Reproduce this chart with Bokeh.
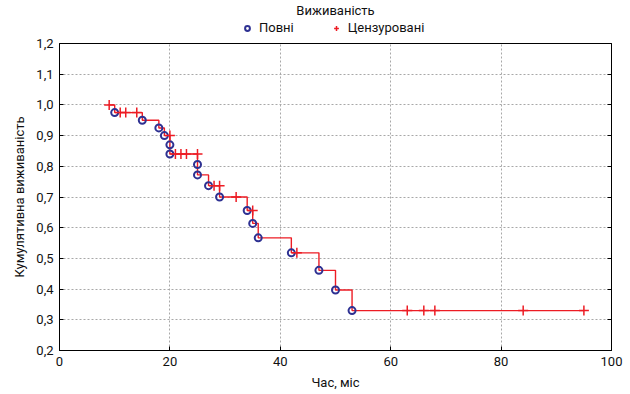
from bokeh.plotting import figure
from bokeh.layouts import column
from bokeh.models import Range1d, FixedTicker, LinearAxis, Legend, LegendItem
from bokeh.embed import file_html
from bokeh.resources import INLINE

# ---- data ----
event_times = [10, 15, 18, 19, 20, 20, 25, 25, 27, 29, 34, 35, 36, 42, 47, 50, 53]
event_surv = [0.975, 0.95, 0.925, 0.90, 0.87, 0.84, 0.806, 0.772, 0.737, 0.70,
              0.656, 0.614, 0.567, 0.518, 0.461, 0.397, 0.33]
cens_times = [9, 11, 12, 14, 20, 21, 22, 23, 25, 28, 29, 32, 35, 43, 63, 66, 68, 84, 95]
cens_surv = [1.0, 0.975, 0.975, 0.975, 0.90, 0.84, 0.84, 0.84, 0.84, 0.737, 0.737,
             0.70, 0.656, 0.518, 0.33, 0.33, 0.33, 0.33, 0.33]
start_time = 9
start_surv = 1.0
end_time = 95

x_ticks = [0, 20, 40, 60, 80, 100]
y_ticks = [0.2, 0.3, 0.4, 0.5, 0.6, 0.7, 0.8, 0.9, 1.0, 1.1, 1.2]
y_tick_labels = ["0,2", "0,3", "0,4", "0,5", "0,6", "0,7", "0,8", "0,9", "1,0", "1,1", "1,2"]

title_text = "Виживаність"
event_label = "Повні"
cens_label = "Цензуровані"
x_title = "Час, міс"
y_title = "Кумулятивна виживаність"

# ---- step line built from the event data ----
step_x = [start_time]
step_y = [start_surv]
prev = start_surv
for t, s in zip(event_times, event_surv):
    step_x += [t, t]
    step_y += [prev, s]
    prev = s
step_x.append(end_time)
step_y.append(prev)

FONT = "Roboto"
RED = "#ED1C24"
BLUE = "#2E3192"
CIRCLE_STYLE = dict(marker="circle", size=7, line_color=BLUE, line_width=2, fill_alpha=0)
CROSS_STYLE = dict(marker="cross", size=10, line_color=RED, line_width=1.5)

# ---------------- header: title + legend ----------------
head = figure(width=630, height=35, output_backend="svg", toolbar_location=None,
              x_axis_type=None, y_axis_type=None,
              x_range=Range1d(0, 1), y_range=Range1d(0, 1),
              min_border_left=0, min_border_right=0, min_border_bottom=0, min_border_top=0)
head.grid.visible = False
head.outline_line_color = None
head.title.text = title_text
head.title.align = "center"
head.title.text_font = FONT
head.title.text_font_style = "normal"
head.title.text_font_size = "13px"
head.title.text_color = "#111111"
head.title.offset = 0
head.title.standoff = 0
# same data as the main plot; it lies outside this header's ranges, so only the legend glyphs show
h_circ = head.scatter(event_times, event_surv, **CIRCLE_STYLE)
h_plus = head.scatter(cens_times, cens_surv, **CROSS_STYLE)
legend = Legend(items=[LegendItem(label=event_label, renderers=[h_circ]),
                       LegendItem(label=cens_label, renderers=[h_plus])],
                orientation="horizontal", location=(182, 0),
                border_line_color=None, background_fill_alpha=0,
                label_text_font=FONT, label_text_font_size="13px", label_text_color="#111111",
                glyph_width=12, glyph_height=12, label_standoff=6, spacing=36,
                padding=0, margin=0, label_height=14)
head.add_layout(legend, "center")

# ---------------- main plot ----------------
p = figure(width=630, height=359, output_backend="svg", toolbar_location=None,
           x_range=Range1d(0, 100), y_range=Range1d(0.2, 1.2),
           min_border_left=59, min_border_right=19, min_border_bottom=44, min_border_top=8)

p.outline_line_color = "black"
p.outline_line_width = 1

p.line(step_x, step_y, line_color=RED, line_width=1.4)
p.scatter(event_times, event_surv, **CIRCLE_STYLE)
p.scatter(cens_times, cens_surv, **CROSS_STYLE)

for ax in (p.xaxis[0], p.yaxis[0]):
    ax.major_tick_in = 4
    ax.major_tick_out = 0
    ax.minor_tick_in = 0
    ax.minor_tick_out = 0
    ax.axis_line_color = "black"
    ax.major_tick_line_color = "black"
    ax.major_label_text_font = FONT
    ax.major_label_text_font_size = "13px"
    ax.major_label_text_color = "#111111"
    ax.axis_label_text_font = FONT
    ax.axis_label_text_font_size = "13px"
    ax.axis_label_text_font_style = "normal"
    ax.axis_label_text_color = "#111111"
    ax.major_label_standoff = 6

p.xaxis[0].ticker = FixedTicker(ticks=x_ticks)
p.yaxis[0].ticker = FixedTicker(ticks=y_ticks)
p.yaxis[0].major_label_overrides = {v: l for v, l in zip(y_ticks, y_tick_labels)}
p.xaxis[0].axis_label = x_title
p.yaxis[0].axis_label = y_title
p.xaxis[0].axis_label_standoff = 6
p.yaxis[0].axis_label_standoff = 6

right = LinearAxis(ticker=FixedTicker(ticks=y_ticks), major_tick_in=4, major_tick_out=0,
                   minor_tick_in=0, minor_tick_out=0, axis_line_color="black",
                   major_label_overrides={v: "" for v in y_ticks})
p.add_layout(right, "right")

p.xgrid.ticker = FixedTicker(ticks=x_ticks)
p.ygrid.ticker = FixedTicker(ticks=y_ticks)
for g in (p.xgrid[0], p.ygrid[0]):
    g.grid_line_color = "#a8a8a8"
    g.grid_line_dash = "2 2"
    g.grid_line_width = 1

layout = column(head, p, spacing=0)
open("out.html", "w").write(file_html(layout, INLINE))
